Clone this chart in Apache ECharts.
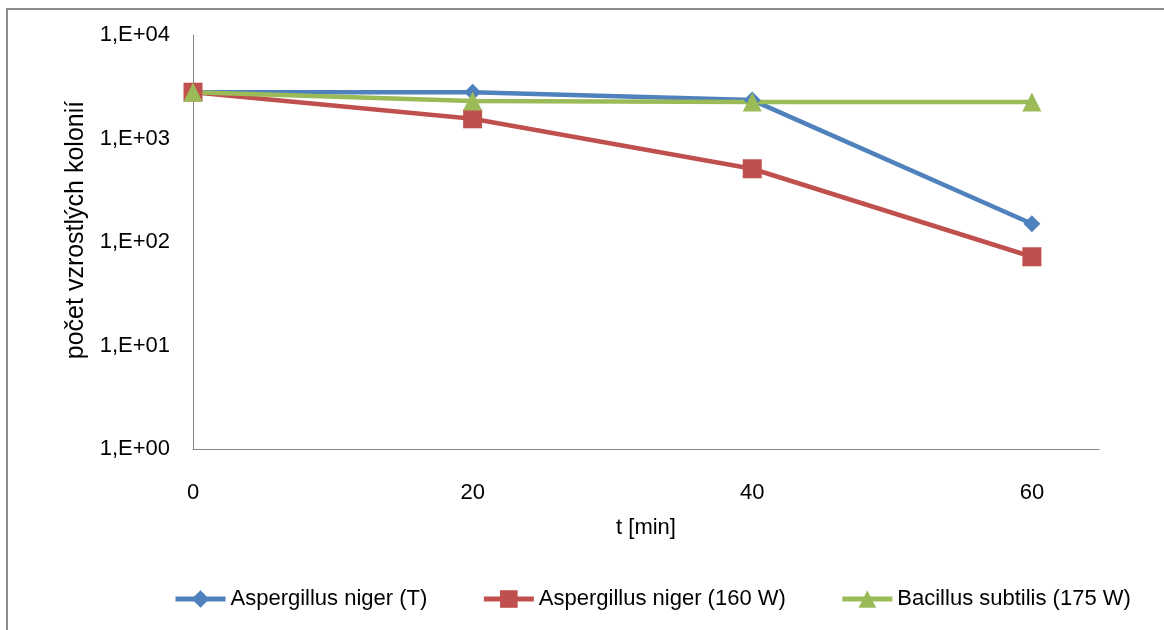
<!DOCTYPE html>
<html>
<head>
<meta charset="utf-8">
<script src="https://cdn.jsdelivr.net/npm/echarts@6/dist/echarts.min.js"></script>
<style>
  html, body { margin: 0; padding: 0; background: #fff; }
  #chart { width: 1164px; height: 630px; }
</style>
</head>
<body>
<div id="chart"></div>
<script>
// time in minutes
const times = [0, 20, 40, 60]
const nigerT = [2800, 2800, 2350, 150]
const niger160 = [2800, 1550, 510, 72]
const subtilis175 = [2800, 2300, 2250, 2250]
const seriesNames = ['Aspergillus niger (T)', 'Aspergillus niger (160 W)', 'Bacillus subtilis (175 W)']
const yTickLabels = ['1,E+00', '1,E+01', '1,E+02', '1,E+03', '1,E+04']

const font = '"Liberation Sans", Arial, sans-serif'
const axisColor = '#868686'

function pairs(ys) {
  return times.map((t, i) => [t, ys[i]])
}

const myChart = echarts.init(document.getElementById('chart'))
myChart.setOption({
  animation: false,
  textStyle: { fontFamily: font },
  graphic: [
    {
      type: 'polyline',
      shape: { points: [[7, 640], [7, 9], [1170, 9]] },
      style: { stroke: '#8c8c8c', lineWidth: 2, fill: null },
      silent: true
    }
  ],
  grid: { left: 193, right: 65, top: 35, bottom: 181 },
  xAxis: {
    type: 'value',
    min: 0,
    max: 64.8,
    interval: 20,
    name: 't [min]',
    nameLocation: 'middle',
    nameGap: 68,
    nameTextStyle: { fontSize: 22, color: '#000', fontFamily: font },
    axisLine: { show: true, lineStyle: { color: axisColor, width: 1 } },
    axisTick: { show: false },
    splitLine: { show: false },
    axisLabel: {
      fontSize: 22,
      color: '#000',
      margin: 33,
      fontFamily: font,
      formatter: v => (v % 20 === 0 ? String(v) : '')
    }
  },
  yAxis: {
    type: 'log',
    logBase: 10,
    min: 1,
    max: 10000,
    name: 'počet vzrostlých kolonií',
    nameLocation: 'middle',
    nameGap: 104,
    nameTextStyle: { fontSize: 25, color: '#000', fontFamily: font, padding: [0, 0, 0, 24] },
    axisLine: { show: true, lineStyle: { color: axisColor, width: 1 } },
    axisTick: { show: false },
    splitLine: { show: false },
    axisLabel: {
      fontSize: 22,
      color: '#000',
      margin: 23,
      fontFamily: font,
      formatter: v => yTickLabels[Math.round(Math.log10(v))]
    }
  },
  legend: {
    left: 168,
    top: 583,
    itemWidth: 50,
    itemHeight: 22,
    itemGap: 54,
    lineStyle: { width: 5 },
    textStyle: { fontSize: 22, color: '#000', fontFamily: font },
    data: seriesNames
  },
  series: [
    {
      name: seriesNames[0],
      type: 'line',
      data: pairs(nigerT),
      symbol: 'diamond',
      symbolSize: 17,
      lineStyle: { width: 4.5, color: '#4F81BD' },
      itemStyle: { color: '#4F81BD', borderWidth: 0 }
    },
    {
      name: seriesNames[1],
      type: 'line',
      data: pairs(niger160),
      symbol: 'rect',
      symbolSize: 19,
      lineStyle: { width: 4.5, color: '#C0504D' },
      itemStyle: { color: '#C0504D', borderWidth: 0 }
    },
    {
      name: seriesNames[2],
      type: 'line',
      data: pairs(subtilis175),
      symbol: 'triangle',
      symbolSize: 19,
      lineStyle: { width: 4.5, color: '#9BBB59' },
      itemStyle: { color: '#9BBB59', borderWidth: 0 }
    }
  ]
})
</script>
</body>
</html>
